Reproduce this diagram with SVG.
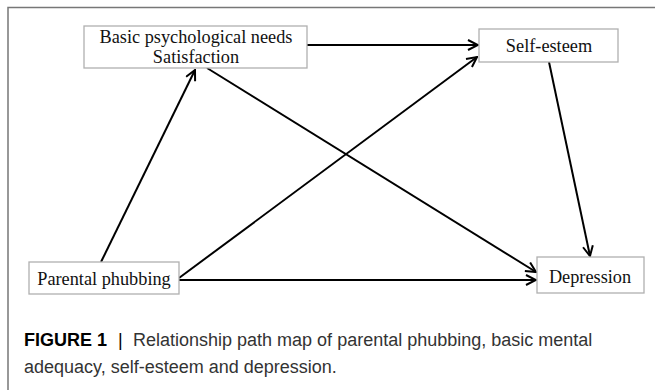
<svg xmlns="http://www.w3.org/2000/svg" width="655" height="390" viewBox="0 0 655 390">
<defs>
<marker id="arr" viewBox="0 0 12 12" refX="11" refY="6" markerWidth="12" markerHeight="12" markerUnits="userSpaceOnUse" orient="auto">
<polyline points="1,1 11,6 1,11" fill="none" stroke="#000" stroke-width="2"/>
</marker>
<style>
.box{fill:#fff;stroke:#b0b0b0;stroke-width:1.3}
.lbl{font-family:"Liberation Serif","Times New Roman",serif;font-size:18.3px;fill:#111;text-anchor:middle}
.edge{stroke:#000;stroke-width:2;fill:none;marker-end:url(#arr)}
.cap{font-family:"Liberation Sans",Arial,sans-serif;font-size:18px;fill:#333}
</style>
</defs>
<rect width="655" height="390" fill="#fff"/>
<path d="M8,390 V7.5 H655" fill="none" stroke="#777" stroke-width="1.5"/>
<g id="connectors">
<line class="edge" x1="307" y1="45" x2="478" y2="45"/>
<line class="edge" x1="101" y1="262" x2="195" y2="70"/>
<line class="edge" x1="207" y1="68" x2="536" y2="272"/>
<line class="edge" x1="179" y1="278" x2="477" y2="57"/>
<line class="edge" x1="179" y1="280" x2="536" y2="280"/>
<line class="edge" x1="549" y1="62" x2="590" y2="256"/>
</g>
<g id="node-basic">
<rect class="box" x="84" y="26" width="223" height="42"/>
<text class="lbl" x="196" y="43">Basic psychological needs</text>
<text class="lbl" x="196" y="63">Satisfaction</text>
</g>
<g id="node-selfesteem">
<rect class="box" x="479" y="29" width="139" height="33"/>
<text class="lbl" x="549" y="52">Self-esteem</text>
</g>
<g id="node-parental">
<rect class="box" x="29" y="262" width="150" height="32"/>
<text class="lbl" x="104" y="285">Parental phubbing</text>
</g>
<g id="node-depression">
<rect class="box" x="537" y="257" width="107" height="36"/>
<text class="lbl" x="590" y="283">Depression</text>
</g>
<g id="caption">
<text class="cap" x="24" y="346"><tspan font-weight="bold" fill="#000">FIGURE 1</tspan><tspan x="118" fill="#000">|</tspan><tspan x="133">Relationship path map of parental phubbing, basic mental</tspan></text>
<text class="cap" x="24" y="373">adequacy, self-esteem and depression.</text>
</g>
</svg>
